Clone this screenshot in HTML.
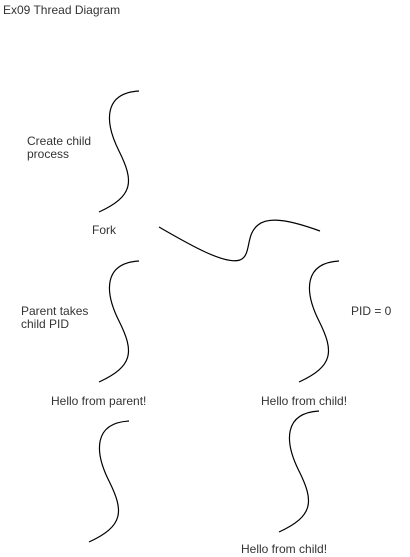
<!DOCTYPE html>
<html><head><style>
html,body{margin:0;padding:0;background:#fff;}
svg{display:block;}
text{font-family:"Liberation Sans",sans-serif;font-size:12px;fill:#333;}
</style></head><body>
<svg width="410" height="557" viewBox="0 0 410 557" xmlns="http://www.w3.org/2000/svg">
<defs>
<path id="s" d="M40,0 C5,2 5,30 20,60 C35,90 35,105 0,121" fill="none" stroke="#000" stroke-width="1.2"/>
</defs>
<text x="3" y="14">Ex09 Thread Diagram</text>
<use href="#s" x="99" y="91"/>
<text x="27" y="145">Create child</text>
<text x="27" y="158">process</text>
<text x="92" y="234">Fork</text>
<path d="M159,227 C190,245 225,265 240,260 C252,255 245,235 258,225 C270,215 295,222 320,231" fill="none" stroke="#000" stroke-width="1.2"/>
<use href="#s" x="99" y="261"/>
<use href="#s" x="299" y="261"/>
<text x="21" y="315">Parent takes</text>
<text x="21" y="328">child PID</text>
<text x="351" y="315">PID = 0</text>
<text x="51" y="405">Hello from parent!</text>
<text x="261" y="405">Hello from child!</text>
<use href="#s" x="89" y="421"/>
<use href="#s" x="279" y="411"/>
<text x="241" y="553">Hello from child!</text>
</svg>
</body></html>
